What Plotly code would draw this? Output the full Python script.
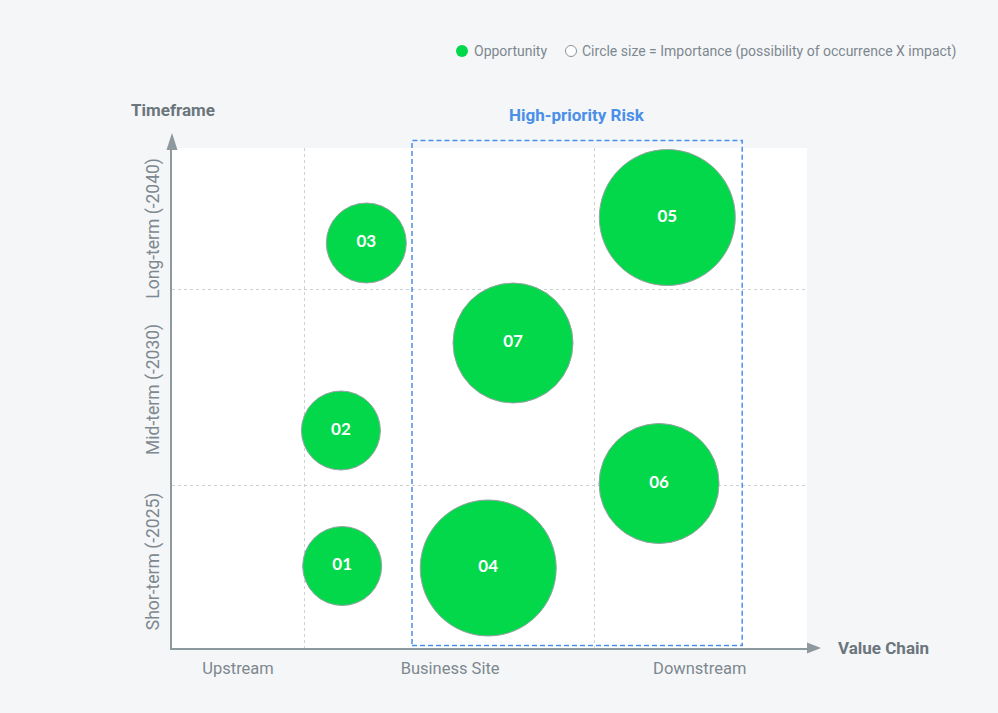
import plotly.graph_objects as go

# ---- data ----
ids = ["01", "02", "03", "04", "05", "06", "07"]
value_chain_pos = [2.68, 2.66, 3.06, 4.98, 7.80, 7.67, 5.37]
timeframe_pos = [1.64, 4.35, 8.10, 1.60, 8.61, 3.29, 6.10]
importance = [79, 79, 80, 136, 136, 120, 120]

x_categories = ["Upstream", "Business Site", "Downstream"]
x_category_pos = [1.04, 4.38, 8.31]
x_boundaries = [2.09, 6.66]

y_categories = ["Shor-term (-2025)", "Mid-term (-2030)", "Long-term (-2040)"]
y_category_pos = [1.68, 5.12, 8.34]
y_boundaries = [3.26, 7.18]

FONT = "Roboto"
GREEN = "#03d84b"
GRAY_TXT = "#7d888f"
AXIS = "#8e989f"
BLUE = "#4a8fe8"

fig = go.Figure()
fig.add_trace(go.Scatter(
    x=value_chain_pos, y=timeframe_pos, mode="markers+text",
    text=ids, textposition="middle center",
    textfont=dict(family="Lato", size=17, color="white", weight="bold"),
    marker=dict(size=importance, sizemode="diameter", sizeref=1,
                color=GREEN, opacity=1, line=dict(color="#9ba1a6", width=1)),
    name="Opportunity", showlegend=False, cliponaxis=False,
    hoverinfo="skip",
))

fig.update_layout(
    width=998, height=713,
    margin=dict(l=172, r=191, t=148, b=65),
    paper_bgcolor="#f5f6f8", plot_bgcolor="white",
    font=dict(family=FONT, color=GRAY_TXT),
    xaxis=dict(range=[0, 10], showline=True, linecolor=AXIS, linewidth=1.5,
               tickvals=x_category_pos, ticktext=x_categories, ticks="",
               tickfont=dict(size=16.5, color=GRAY_TXT, family=FONT),
               showgrid=False, zeroline=False, fixedrange=True,
               ticklabelstandoff=4,
               minor=dict(tickvals=x_boundaries, showgrid=True, gridcolor="#cdd1d4",
                          griddash="3px,3px", gridwidth=1, ticks="")),
    yaxis=dict(range=[0, 10], showline=True, linecolor=AXIS, linewidth=1.5,
               tickvals=y_category_pos, ticktext=y_categories, ticks="",
               tickangle=-90,
               tickfont=dict(size=17.5, color=GRAY_TXT, family=FONT),
               showgrid=False, zeroline=False, fixedrange=True,
               ticklabelstandoff=4,
               minor=dict(tickvals=y_boundaries, showgrid=True, gridcolor="#cdd1d4",
                          griddash="3px,3px", gridwidth=1, ticks="")),
    showlegend=False,
)

# High-priority risk dashed box
fig.add_shape(type="rect", xref="x", yref="paper",
              x0=3.78, x1=8.98, y0=0.005, y1=1.015,
              line=dict(color=BLUE, width=1.5, dash="5px,3px"), layer="above")

# axis arrows
fig.add_shape(type="path", xref="paper", yref="paper",
              path="M -0.0087,0.996 L 0.0087,0.996 L 0,1.03 Z",
              fillcolor=AXIS, line=dict(width=0))
fig.add_shape(type="path", xref="paper", yref="paper",
              path="M 1.0,-0.011 L 1.0,0.011 L 1.022,0 Z",
              fillcolor=AXIS, line=dict(width=0))

# legend markers
fig.add_shape(type="circle", xref="paper", yref="paper",
              xsizemode="pixel", ysizemode="pixel",
              xanchor=(462 - 172) / 635, yanchor=(648 - 51) / 500,
              x0=-6, x1=6, y0=-6, y1=6,
              fillcolor=GREEN, line=dict(width=0))
fig.add_shape(type="circle", xref="paper", yref="paper",
              xsizemode="pixel", ysizemode="pixel",
              xanchor=(571 - 172) / 635, yanchor=(648 - 51) / 500,
              x0=-5.5, x1=5.5, y0=-5.5, y1=5.5,
              fillcolor="white", line=dict(color="#8a9399", width=1))

annos = [
    dict(text="Opportunity", x=(472 - 172) / 635, y=(648 - 51) / 500,
         xanchor="left", yanchor="middle",
         font=dict(size=14, color=GRAY_TXT)),
    dict(text="Circle size = Importance (possibility of occurrence X impact)",
         x=(580 - 172) / 635, y=(648 - 51) / 500,
         xanchor="left", yanchor="middle",
         font=dict(size=14, color=GRAY_TXT)),
    dict(text="<b>Timeframe</b>", x=(129 - 172) / 635, y=(648 - 110) / 500,
         xanchor="left", yanchor="middle",
         font=dict(size=17, color="#6b757c")),
    dict(text="<b>Value Chain</b>", x=(836 - 172) / 635, y=0,
         xanchor="left", yanchor="middle",
         font=dict(size=17, color="#6b757c")),
    dict(text="<b>High-priority Risk</b>", x=(577 - 172) / 635, y=(648 - 115) / 500,
         xanchor="center", yanchor="middle",
         font=dict(size=17, color=BLUE)),
]
for a in annos:
    fig.add_annotation(xref="paper", yref="paper", showarrow=False, **a)

fig.write_html("out.html")
